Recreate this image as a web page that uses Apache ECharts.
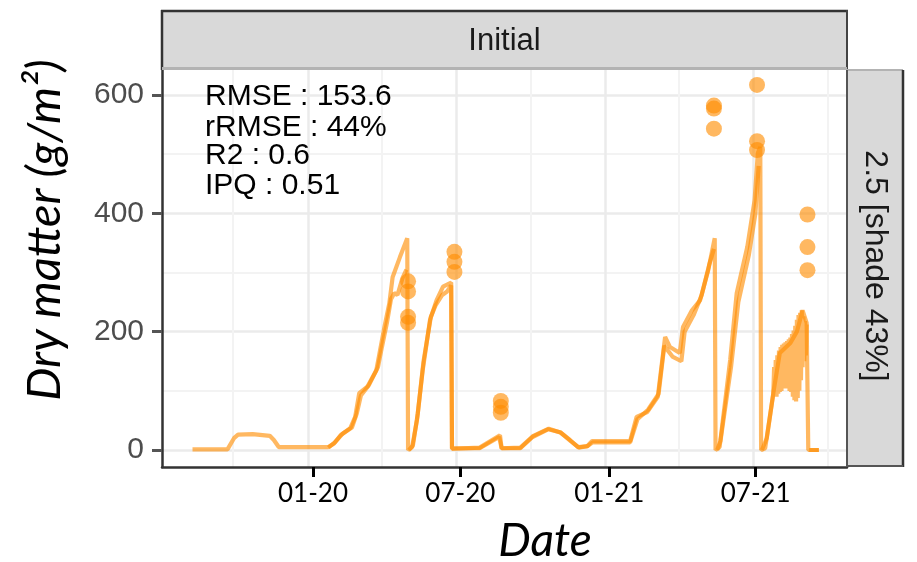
<!DOCTYPE html>
<html><head><meta charset="utf-8">
<script src="https://cdn.jsdelivr.net/npm/echarts@6/dist/echarts.min.js"></script>
<style>html,body{margin:0;padding:0;background:#fff}#c{width:917px;height:562px}</style>
</head><body><div id="c"></div>
<script>
// ---- data ----
const simADates = ['2019-08-12','2019-09-24','2019-10-02','2019-10-07','2019-10-25','2019-11-15','2019-11-20','2019-11-26',
 '2020-01-26','2020-02-02','2020-02-10','2020-02-22','2020-02-28','2020-03-04','2020-03-14','2020-03-25','2020-03-29','2020-04-04','2020-04-10','2020-04-14','2020-04-23','2020-05-02',
 '2020-05-03','2020-05-08','2020-05-14','2020-05-21','2020-05-30','2020-06-07','2020-06-15','2020-06-25',
 '2020-06-26','2020-07-30','2020-08-24','2020-08-26','2020-09-18','2020-10-03','2020-10-22','2020-11-06','2020-11-18','2020-11-28','2020-12-09','2020-12-15',
 '2021-01-31','2021-02-08','2021-02-21','2021-03-06','2021-03-15','2021-03-21','2021-04-02','2021-04-06','2021-04-17','2021-04-27','2021-05-07','2021-05-15',
 '2021-05-16','2021-05-21','2021-06-03','2021-06-11','2021-06-24','2021-07-03','2021-07-07','2021-07-10',
 '2021-07-11','2021-07-16','2021-07-26','2021-08-03','2021-08-16','2021-08-24','2021-08-31','2021-09-05',
 '2021-09-07','2021-09-20'];
const simAValues = [1,1,20,26,27,24,17,5,
 5,11,25,37,56,96,107,135,164,208,248,292,326,358,
 0,5,51,135,220,253,276,283,
 2,4,25,3,3,22,35,30,17,5,6,15,
 15,56,64,90,191,174,164,208,236,253,304,358,
 0,5,152,265,343,422,502,512,
 0,3,96,164,181,200,236,215,
 0,0];

const simBDates = ['2020-01-26','2020-02-03','2020-02-12','2020-02-24','2020-03-01','2020-03-06','2020-03-16','2020-03-27','2020-04-01','2020-04-07','2020-04-12','2020-04-16','2020-04-20','2020-04-26','2020-05-01',
 '2020-05-02',
 '2020-05-04','2020-05-09','2020-05-15','2020-05-22','2020-05-31','2020-06-06','2020-06-14','2020-06-20','2020-06-25',
 '2020-06-26','2020-07-30','2020-08-23','2020-08-26','2020-09-18','2020-10-04','2020-10-23','2020-11-07','2020-11-19','2020-11-29','2020-12-10','2020-12-16',
 '2021-01-31','2021-02-09','2021-02-22','2021-03-07','2021-03-14','2021-03-24','2021-04-04','2021-04-08','2021-04-19','2021-04-29','2021-05-08','2021-05-14',
 '2021-05-15',
 '2021-05-18','2021-05-22','2021-06-04','2021-06-13','2021-06-26','2021-07-04','2021-07-08',
 '2021-07-09',
 '2021-07-12','2021-07-18','2021-07-26',
 '2021-07-27','2021-07-28','2021-07-29','2021-07-30','2021-07-31','2021-08-01','2021-08-02','2021-08-03','2021-08-04','2021-08-05',
 '2021-08-06','2021-08-07','2021-08-08','2021-08-09','2021-08-10','2021-08-11','2021-08-12','2021-08-13','2021-08-14','2021-08-15',
 '2021-08-16','2021-08-17','2021-08-18','2021-08-19','2021-08-20','2021-08-21','2021-08-22','2021-08-23','2021-08-24','2021-08-25',
 '2021-08-26','2021-08-27','2021-08-28','2021-08-29','2021-08-30','2021-08-31','2021-09-01','2021-09-02','2021-09-03','2021-09-04','2021-09-05',
 '2021-09-06',
 '2021-09-08','2021-09-20'];
const simBValues = [4,13,27,38,62,92,110,140,175,215,255,265,262,290,305,
 null,
 0,8,62,150,225,245,262,268,278,
 3,3,22,3,4,24,36,29,15,4,7,13,
 13,52,68,95,176,158,150,200,228,262,312,340,
 null,
 0,15,140,250,330,400,480,
 null,
 0,20,95,
 140,92,152,90,160,95,168,98,174,100,
 178,104,180,106,182,104,184,106,187,100,
 190,98,196,90,202,84,210,82,220,88,
 228,100,232,118,236,140,226,150,218,160,212,
 null,
 0,0];

const obsDates = ['2020-05-03','2020-05-03','2020-05-03','2020-05-03',
 '2020-06-29','2020-06-29','2020-06-29',
 '2020-08-25','2020-08-25','2020-08-25',
 '2021-05-14','2021-05-14','2021-05-14',
 '2021-07-06','2021-07-06','2021-07-06',
 '2021-09-06','2021-09-06','2021-09-06'];
const obsValues = [285,268,225,215, 335,318,301, 83,73,63, 582,577,543, 617,522,507, 398,343,304];

const xTickDates = ['2020-01-01','2020-07-01','2021-01-01','2021-07-01'];
const xTickLabels = ['01-20','07-20','01-21','07-21'];
const xMinorDates = ['2019-10-01','2020-04-01','2020-10-01','2021-04-01','2021-10-01'];
const yTicks = [0,200,400,600];
const yMinor = [100,300,500];
const statsLines = ['RMSE : 153.6','rRMSE : 44%','R2 : 0.6','IPQ : 0.51'];
const stripTop = 'Initial';
const stripRight = '2.5 [shade 43%]';

// ---- helpers ----
const DAY = 86400000;
const ts = s => { const p = s.split('-').map(Number); return Date.UTC(p[0], p[1]-1, p[2]); };
const pairs = (d, v) => d.map((x, i) => [ts(x), v[i] == null ? '-' : v[i]]);
const t0 = ts('2020-01-01');
const dataMin = t0 - 179.5*DAY, dataMax = t0 + 662.6*DAY;
const labMin = t0 - 186.6*DAY, labMax = t0 + 659.8*DAY;
const majorTs = xTickDates.map(ts), minorTs = xMinorDates.map(ts);
const yMin = -28.7, yMax = 642.2;

const ORANGE = '#FF8C00';
const chart = echarts.init(document.getElementById('c'), null, {renderer:'canvas'});
const lineSeries = (name, data) => ({
  name, type:'line', xAxisIndex:0, yAxisIndex:0, data, showSymbol:false, connectNulls:false,
  lineStyle:{color:ORANGE, width:4.2, opacity:0.62}, itemStyle:{color:ORANGE}, z:3, animation:false, silent:true
});

chart.setOption({
  animation:false,
  grid:{left:162, right:70, top:70, bottom:95, containLabel:false},
  xAxis:[
    {type:'value', position:'bottom', min:dataMin, max:dataMax, scale:true,
     axisLine:{show:true, onZero:false, lineStyle:{color:'#333', width:2.5}},
     axisTick:{show:false, customValues:majorTs}, axisLabel:{show:false, customValues:majorTs},
     splitLine:{show:true, lineStyle:{color:'#ebebeb', width:2.5}}},
    {type:'value', position:'bottom', min:dataMin, max:dataMax, scale:true,
     axisLine:{show:false, onZero:false}, axisTick:{show:false, customValues:minorTs}, axisLabel:{show:false, customValues:minorTs},
     splitLine:{show:true, lineStyle:{color:'#f3f3f3', width:2}}},
    {type:'value', position:'bottom', min:labMin, max:labMax, scale:true,
     axisLine:{show:false, onZero:false},
     axisTick:{show:true, customValues:majorTs, length:10, inside:false, lineStyle:{color:'#000', width:3}},
     axisLabel:{show:true, customValues:majorTs, margin:14, color:'#000', fontFamily:'Lato', fontSize:26,
       formatter:v => { const i = majorTs.findIndex(t => Math.abs(t - v) < DAY); return i >= 0 ? xTickLabels[i] : ''; }},
     splitLine:{show:false}}
  ],
  yAxis:[
    {type:'value', position:'left', min:yMin, max:yMax,
     axisLine:{show:true, onZero:false, lineStyle:{color:'#333', width:2.5}},
     axisTick:{show:true, customValues:yTicks, length:10, lineStyle:{color:'#555', width:3}},
     axisLabel:{show:true, customValues:yTicks, margin:18, color:'#4d4d4d', fontFamily:'Liberation Sans', fontSize:30},
     splitLine:{show:true, lineStyle:{color:'#ebebeb', width:2.5}}},
    {type:'value', position:'left', min:yMin, max:yMax,
     axisLine:{show:false, onZero:false}, axisTick:{show:false, customValues:yMinor}, axisLabel:{show:false, customValues:yMinor},
     splitLine:{show:true, lineStyle:{color:'#f3f3f3', width:2}}}
  ],
  series:[
    lineSeries('simA', pairs(simADates, simAValues)),
    lineSeries('simB', pairs(simBDates, simBValues)),
    {name:'obs', type:'scatter', xAxisIndex:0, yAxisIndex:0, data:pairs(obsDates, obsValues), symbol:'circle', symbolSize:16,
     itemStyle:{color:ORANGE, opacity:0.62}, z:4, silent:true}
  ],
  graphic:[
    {type:'rect', shape:{x:162, y:10, width:685, height:60}, style:{fill:'#d9d9d9'}, z:10},
    {type:'line', shape:{x1:161, y1:11, x2:848, y2:11}, style:{stroke:'#333', lineWidth:2.5}, z:11},
    {type:'line', shape:{x1:162, y1:10, x2:162, y2:70}, style:{stroke:'#333', lineWidth:2.5}, z:11},
    {type:'line', shape:{x1:847, y1:10, x2:847, y2:70}, style:{stroke:'#444', lineWidth:2}, z:11},
    {type:'line', shape:{x1:162, y1:68.5, x2:847, y2:68.5}, style:{stroke:'#b3b3b3', lineWidth:3}, z:11},
    {type:'text', style:{text:stripTop, x:504.5, y:41, align:'center', verticalAlign:'middle',
      fontFamily:'Liberation Sans', fontSize:31, fill:'#1a1a1a'}, z:12},
    {type:'rect', shape:{x:847, y:70, width:56, height:396}, style:{fill:'#d9d9d9'}, z:10},
    {type:'line', shape:{x1:847, y1:70, x2:903, y2:70}, style:{stroke:'#b3b3b3', lineWidth:2}, z:11},
    {type:'line', shape:{x1:903, y1:70, x2:903, y2:467}, style:{stroke:'#333', lineWidth:2.5}, z:11},
    {type:'line', shape:{x1:847, y1:466, x2:903, y2:466}, style:{stroke:'#555', lineWidth:2}, z:11},
    {type:'line', shape:{x1:847, y1:70, x2:847, y2:467}, style:{stroke:'#555', lineWidth:2}, z:11},
    {type:'text', x:875, y:266, rotation:-Math.PI/2,
     style:{text:stripRight, x:0, y:0, align:'center', verticalAlign:'middle', fontFamily:'Liberation Sans', fontSize:32, fill:'#1a1a1a'}, z:12},
    ...statsLines.map((t, i) => ({type:'text', style:{text:t, x:205, y:[97,127.5,156,186][i], align:'left', verticalAlign:'middle',
      fontFamily:'Liberation Sans', fontSize:30, fill:'#000'}, z:12})),
    {type:'text', style:{text:'Date', x:545, y:541, align:'center', verticalAlign:'middle',
      fontFamily:'Lato', fontStyle:'italic', fontSize:46, fill:'#000'}, z:12},
    {type:'text', x:45, y:230, rotation:Math.PI/2,
     style:{text:'Dry matter (g/m²)', x:0, y:0, align:'center', verticalAlign:'middle',
      fontFamily:'Lato', fontStyle:'italic', fontSize:47, fill:'#000'}, z:12}
  ]
});
</script></body></html>
